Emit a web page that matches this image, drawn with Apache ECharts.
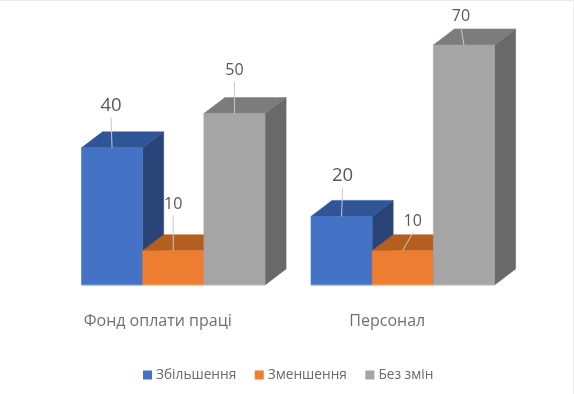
<!DOCTYPE html>
<html><head><meta charset="utf-8">
<style>html,body{margin:0;padding:0;background:#fff}#c{width:574px;height:394px}</style>
<script src="https://cdn.jsdelivr.net/npm/echarts@6/dist/echarts.min.js"></script></head>
<body><div id="c"></div><script>
const categories = ['Фонд оплати праці', 'Персонал'];
const increase = [40, 20];
const decrease = [10, 10];
const unchanged = [50, 70];
const seriesNames = ['Збільшення', 'Зменшення', 'Без змін'];
const seriesValues = [increase, decrease, unchanged];

const palette = [
  {front:'#4472c4', top:'#2f5597', side:'#2a4478', edge:'#8faadc'},
  {front:'#ed7d31', top:'#b45f20', side:'#a85a22', edge:'#f4b183'},
  {front:'#a5a5a5', top:'#7c7c7c', side:'#696969', edge:'#c0c0c0'}
];
// leader line offsets (dx, dy from the bar's top-front centre) and font size
const labelStyle = [
  [{dx:-1,dy:-30,fs:18.5},{dx:1,dy:-28,fs:18.5}],
  [{dx:0,dy:-35,fs:16},{dx:10,dy:-18,fs:16}],
  [{dx:0,dy:-32,fs:16},{dx:-3,dy:-18,fs:16}]
];
const FONT = '"Open Sans","Noto Sans",sans-serif';
const depthX = 0.344, depthY = 0.262, groupFill = 0.8;

function render3d(si){
  return function(params, api){
    const cat = api.value(0), val = api.value(1);
    const band = api.size([1,0])[0];
    const w = band * groupFill / 3;
    const p = api.coord([cat, val]);
    const b = api.coord([cat, 0]);
    const x0 = p[0] + (si - 1.5) * w, x1 = x0 + w;
    const yT = p[1], yB = b[1];
    const dx = w * depthX, dy = w * depthY;
    const c = palette[si], L = labelStyle[si][cat];
    const cx = x0 + w/2;
    const poly = (pts, fill, stroke) => ({type:'polygon', shape:{points:pts},
      style:{fill:fill, stroke:stroke||fill, lineWidth:stroke?1:0.5}});
    return {type:'group', children:[
      poly([[x1,yT],[x1+dx,yT-dy],[x1+dx,yB-dy],[x1,yB]], c.side),
      poly([[x0,yT],[x0+dx,yT-dy],[x1+dx,yT-dy],[x1,yT]], c.top),
      poly([[x0,yT],[x1,yT],[x1,yB],[x0,yB]], c.front),
      {type:'line', shape:{x1:x0,y1:yB,x2:x1,y2:yB}, style:{stroke:c.edge,lineWidth:1}},
      {type:'line', z2:10, shape:{x1:cx,y1:yT,x2:cx+L.dx,y2:yT+L.dy}, style:{stroke:'#c9c9c9',lineWidth:1}},
      {type:'text', z2:10, style:{x:cx+L.dx, y:yT+L.dy-3, text:String(val), fill:'#595959',
        font:L.fs+'px '+FONT, textAlign:'center', textVerticalAlign:'bottom'}}
    ]};
  };
}

const chart = echarts.init(document.getElementById('c'), null, {renderer:'canvas'});
chart.setOption({
  animation:false,
  backgroundColor:'#fff',
  grid:{left:58.5, right:56.5, top:45, bottom:109},
  graphic:[
    {type:'line', silent:true, shape:{x1:0,y1:0.5,x2:574,y2:0.5}, style:{stroke:'#e8e8e8',lineWidth:1}},
    {type:'line', silent:true, shape:{x1:573.5,y1:0,x2:573.5,y2:394}, style:{stroke:'#eeeeee',lineWidth:1}}
  ],
  legend:{
    left:143, top:368, padding:0, icon:'rect', itemWidth:9, itemHeight:9, itemGap:18.5,
    textStyle:{color:'#6a6a6a', fontFamily:FONT, fontSize:13.7, padding:[0,0,0,-1]},
    data:seriesNames
  },
  xAxis:{type:'category', data:categories,
    axisLine:{show:false}, axisTick:{show:false},
    axisLabel:{color:'#707070', fontFamily:FONT, fontSize:16, margin:28, padding:[0,31,0,0]}},
  yAxis:{type:'value', min:0, max:70, show:false},
  series:seriesNames.map((name,si)=>({
    name, type:'custom', coordinateSystem:'cartesian2d',
    clip:false, itemStyle:{color:palette[si].front},
    encode:{x:0,y:1},
    data:seriesValues[si].map((v,i)=>[i,v]),
    renderItem:render3d(si)
  }))
});
</script></body></html>
